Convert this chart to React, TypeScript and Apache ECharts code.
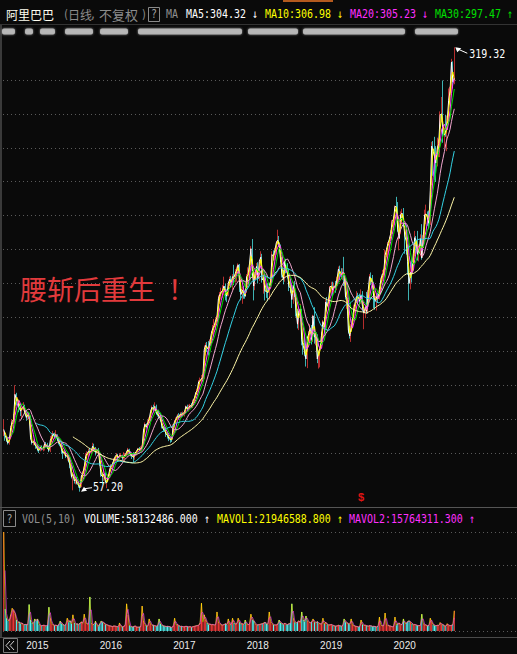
import React, { useEffect, useRef } from "react";
import * as echarts from "echarts";

// Weekly bars, one row per week: [open, close, low, high]
const k2014 = [
  [92.7, 93.89, 89.95, 99.7], [92.7, 90.5, 87.2, 92.9], [89.0, 88.1, 86.6, 90.0], [88.0, 85.8, 85.0, 89.5],
  [85.8, 88.0, 84.9, 89.0], [88.5, 95.0, 88.0, 96.0], [95.5, 98.6, 94.5, 100.0], [99.5, 99.9, 97.0, 103.0],
  [100.0, 114.6, 99.5, 120.0], [114.0, 111.0, 108.0, 115.5], [111.5, 111.6, 108.0, 113.0], [109.0, 106.5, 104.0, 110.0],
  [105.5, 104.7, 101.8, 109.0], [103.0, 106.5, 100.2, 107.5], [107.0, 107.5, 105.0, 110.0], [107.5, 103.6, 103.0, 108.5],
];
const k2015 = [
  [103.0, 101.0, 99.0, 104.0], [101.0, 102.5, 99.5, 104.5], [103.0, 101.9, 100.0, 104.0], [101.5, 89.0, 88.0, 102.0],
  [88.5, 86.0, 85.0, 90.0], [85.0, 87.0, 84.5, 88.0], [87.0, 85.0, 84.5, 88.0], [85.0, 84.0, 82.5, 86.0],
  [84.0, 82.0, 81.0, 85.0], [82.0, 81.5, 80.0, 83.5], [81.5, 83.5, 81.0, 84.5], [83.5, 82.5, 81.5, 84.5],
  [82.5, 82.5, 81.0, 83.5], [82.0, 85.5, 81.5, 86.0], [85.5, 84.5, 83.5, 86.5], [84.5, 83.0, 82.5, 86.0],
  [83.0, 81.5, 80.5, 84.5], [81.5, 87.5, 80.5, 90.0], [87.5, 89.0, 86.5, 91.0], [89.0, 91.5, 88.0, 93.0],
  [91.0, 89.5, 88.5, 92.0], [89.5, 91.0, 88.5, 93.5], [90.0, 88.5, 87.0, 91.0], [88.0, 86.0, 85.0, 88.5],
  [86.5, 85.0, 84.0, 87.0], [84.5, 82.0, 79.5, 85.5], [81.0, 80.0, 76.5, 82.0], [80.5, 80.5, 78.5, 82.0],
  [80.5, 78.0, 77.0, 81.0], [77.5, 78.5, 75.5, 79.5], [78.5, 76.0, 74.5, 79.0], [75.5, 72.5, 71.0, 77.0],
  [72.0, 66.0, 65.0, 73.0], [62.0, 67.5, 58.0, 68.5], [66.5, 63.5, 62.0, 67.5], [63.5, 64.5, 61.5, 66.0],
  [64.5, 62.0, 61.5, 66.0], [61.0, 61.0, 59.5, 63.0], [60.0, 59.5, 57.2, 61.5], [60.0, 66.5, 59.8, 67.0],
  [66.0, 68.0, 65.5, 69.5], [68.5, 71.5, 67.5, 72.0], [72.0, 78.0, 71.5, 80.0], [78.5, 79.5, 77.0, 81.0],
  [80.0, 81.0, 78.0, 82.5], [81.0, 80.5, 79.0, 83.0], [80.5, 81.5, 79.5, 82.5], [81.5, 84.0, 80.5, 86.0],
  [84.0, 82.5, 81.5, 85.5], [82.5, 80.5, 78.5, 83.5], [80.5, 81.5, 79.5, 82.5], [82.0, 81.3, 80.0, 83.0],
];
const k2016 = [
  [79.0, 74.0, 72.5, 80.0], [74.0, 67.0, 66.0, 75.5], [66.5, 66.0, 61.5, 68.5], [66.0, 67.5, 63.5, 70.0],
  [67.0, 63.0, 62.0, 68.5], [62.0, 62.5, 59.25, 64.0], [64.0, 66.0, 63.5, 67.5], [66.0, 70.0, 65.5, 71.0],
  [70.0, 72.5, 69.0, 73.5], [72.0, 73.5, 71.0, 74.5], [73.5, 76.0, 72.5, 77.0], [76.0, 78.0, 75.5, 78.5],
  [78.0, 79.0, 77.0, 80.0], [79.0, 77.0, 76.0, 79.5], [77.0, 78.5, 76.5, 79.5], [78.5, 78.5, 77.5, 80.0],
  [78.0, 77.0, 75.5, 79.0], [77.0, 77.5, 75.0, 80.5], [77.5, 79.0, 76.5, 80.0], [79.0, 80.5, 78.0, 81.5],
  [80.5, 82.0, 79.5, 83.0], [82.0, 80.0, 79.5, 82.5], [80.0, 79.0, 78.0, 81.0], [79.0, 78.0, 76.5, 79.5],
  [78.5, 77.5, 74.5, 80.5], [77.0, 80.0, 76.0, 80.5], [80.0, 81.0, 78.5, 81.5], [81.0, 82.5, 80.5, 83.0],
  [82.5, 82.0, 81.0, 83.5], [82.0, 82.5, 81.0, 84.0], [82.5, 83.5, 81.5, 84.5], [84.0, 93.5, 83.5, 94.0],
  [93.5, 97.0, 92.5, 98.0], [97.0, 95.5, 94.5, 97.5], [95.5, 98.0, 95.0, 99.5], [98.5, 100.0, 97.5, 101.0],
  [100.0, 104.5, 98.5, 105.5], [104.5, 107.0, 104.0, 108.0], [107.0, 105.8, 104.0, 108.5], [106.0, 107.5, 104.5, 109.9],
  [107.5, 103.5, 102.5, 108.5], [103.5, 103.0, 101.5, 105.0], [103.0, 101.5, 100.0, 105.5], [101.5, 100.0, 98.5, 103.5],
  [100.0, 96.0, 94.5, 101.5], [95.5, 94.0, 92.5, 96.0], [94.0, 93.5, 92.5, 95.5], [93.5, 91.0, 89.5, 94.0],
  [91.0, 90.5, 88.5, 92.5], [90.5, 88.5, 87.0, 91.0], [88.5, 88.0, 86.0, 89.5], [88.0, 87.8, 86.5, 89.5],
];
const k2017 = [
  [89.0, 96.0, 88.5, 97.0], [96.0, 98.5, 95.5, 99.5], [98.5, 100.0, 97.5, 101.0], [100.5, 102.0, 99.5, 103.0],
  [101.5, 101.0, 100.0, 103.5], [101.0, 103.0, 100.5, 104.0], [103.0, 102.5, 101.0, 104.0], [102.5, 103.5, 101.5, 104.5],
  [103.0, 104.0, 101.5, 105.0], [104.0, 107.5, 103.0, 108.0], [107.5, 106.0, 105.0, 108.5], [106.0, 106.5, 104.5, 108.5],
  [106.5, 108.0, 106.0, 109.0], [108.0, 107.5, 106.5, 109.5], [107.5, 110.5, 106.5, 111.5], [110.5, 112.5, 109.5, 113.0],
  [113.0, 115.5, 112.5, 116.0], [115.5, 117.0, 114.5, 118.0], [117.0, 122.0, 116.5, 123.0], [122.0, 122.5, 119.0, 124.5],
  [123.0, 124.0, 121.0, 126.0], [124.0, 124.5, 122.0, 126.5], [124.5, 141.0, 123.5, 143.5], [141.0, 143.5, 137.5, 145.0],
  [143.0, 142.0, 139.5, 145.5], [142.0, 141.0, 137.5, 146.0], [142.0, 145.5, 140.0, 147.0], [145.0, 150.5, 144.0, 152.0],
  [151.0, 153.5, 150.0, 155.5], [153.5, 155.0, 150.0, 159.0], [155.0, 158.0, 152.5, 160.0], [158.0, 160.0, 155.5, 161.0],
  [160.0, 171.0, 158.5, 173.0], [171.0, 173.5, 168.0, 175.0], [173.5, 175.0, 170.5, 177.5], [175.0, 176.0, 171.5, 179.0],
  [176.0, 178.5, 173.0, 184.0], [178.5, 174.0, 170.0, 180.0], [174.0, 172.5, 169.0, 176.5], [173.0, 180.0, 172.5, 181.0],
  [180.0, 182.5, 178.5, 184.0], [182.5, 180.5, 177.5, 184.5], [180.5, 184.0, 176.0, 185.5], [184.0, 183.5, 179.0, 191.0],
  [183.5, 186.0, 180.5, 188.5], [186.0, 188.0, 181.0, 190.0], [188.5, 191.0, 186.0, 191.8], [191.0, 180.5, 175.0, 191.5],
  [180.0, 173.5, 170.0, 182.0], [173.5, 176.0, 168.0, 178.0], [176.0, 174.0, 171.0, 178.5], [174.0, 172.4, 171.0, 176.0],
];
const k2018 = [
  [175.0, 184.0, 174.5, 185.5], [184.0, 185.0, 182.0, 189.5], [185.0, 191.5, 184.0, 192.0], [191.5, 200.5, 190.5, 202.0],
  [200.5, 187.0, 184.0, 206.2], [186.0, 178.5, 170.0, 188.0], [178.5, 186.0, 176.0, 187.0], [186.0, 190.0, 184.0, 192.0],
  [190.0, 183.0, 180.0, 192.5], [183.0, 193.0, 181.5, 194.0], [193.0, 195.5, 192.0, 199.0], [195.5, 182.0, 180.5, 197.5],
  [182.0, 183.5, 174.0, 185.0], [182.0, 175.5, 170.0, 184.0], [176.0, 175.5, 171.5, 178.5], [175.5, 174.5, 169.5, 180.0],
  [174.5, 178.5, 170.5, 180.0], [178.5, 181.5, 177.0, 183.0], [181.5, 197.0, 180.5, 199.0], [197.0, 196.0, 193.5, 199.5],
  [196.0, 199.5, 193.5, 201.0], [199.5, 204.0, 197.0, 205.0], [204.0, 205.5, 203.0, 211.7], [205.5, 203.0, 201.5, 208.0],
  [202.0, 194.0, 192.5, 203.0], [194.0, 185.5, 183.5, 195.5], [186.0, 182.5, 179.5, 188.0], [182.5, 193.0, 181.0, 194.0],
  [193.0, 187.5, 186.0, 194.5], [187.5, 185.5, 183.0, 192.0], [185.5, 178.0, 175.5, 188.5], [178.0, 177.5, 174.5, 182.5],
  [177.0, 170.5, 165.5, 179.0], [170.5, 179.0, 168.0, 181.0], [179.0, 175.0, 172.0, 181.5], [175.0, 164.0, 160.5, 175.5],
  [164.0, 156.0, 153.5, 165.0], [156.0, 164.0, 152.5, 166.0], [164.0, 164.8, 160.5, 168.0], [164.0, 147.0, 143.5, 165.0],
  [146.5, 143.5, 138.0, 149.5], [143.5, 140.0, 137.0, 149.0], [140.0, 135.5, 131.0, 143.5], [134.5, 147.5, 130.06, 149.0],
  [147.0, 150.5, 142.5, 152.0], [150.5, 153.5, 145.5, 156.0], [153.5, 146.5, 144.0, 155.5], [146.5, 160.9, 145.5, 161.5],
  [162.0, 148.5, 144.5, 166.0], [148.5, 148.5, 143.5, 151.5], [148.5, 135.5, 133.0, 150.0], [133.0, 139.5, 129.8, 140.5],
];
const k2019 = [
  [136.0, 142.0, 130.5, 143.0], [143.0, 149.5, 142.0, 151.5], [149.5, 157.5, 145.5, 158.5], [157.5, 154.5, 150.5, 160.0],
  [155.0, 169.0, 152.5, 170.5], [169.0, 166.5, 163.5, 172.0], [166.5, 170.5, 164.5, 171.5], [170.5, 178.0, 169.0, 178.5],
  [178.0, 178.5, 174.5, 181.0], [179.0, 176.0, 172.5, 181.0], [176.0, 178.5, 174.0, 180.5], [178.5, 178.0, 174.5, 181.5],
  [177.5, 182.5, 176.0, 184.0], [183.0, 188.5, 182.5, 190.0], [188.5, 186.0, 182.0, 190.5], [186.0, 185.0, 182.5, 189.0],
  [185.0, 186.5, 182.0, 189.0], [186.5, 186.0, 178.5, 195.7], [180.0, 172.0, 170.5, 183.0], [170.0, 171.5, 165.0, 175.0],
  [166.5, 152.5, 150.5, 168.0], [153.0, 149.0, 147.5, 155.0], [149.0, 154.0, 145.5, 156.0], [155.0, 160.0, 153.5, 161.0],
  [160.0, 165.5, 158.0, 167.5], [166.0, 169.5, 163.0, 170.5], [172.0, 172.5, 169.5, 175.5], [172.5, 172.0, 168.0, 174.5],
  [172.0, 169.5, 167.5, 174.0], [169.5, 173.0, 168.0, 176.5], [173.0, 166.5, 163.5, 175.5], [162.0, 162.5, 153.0, 164.5],
  [162.5, 166.0, 159.5, 167.5], [166.5, 163.5, 162.0, 175.0], [163.0, 175.0, 162.0, 176.0], [174.0, 184.0, 172.5, 185.5],
  [184.0, 182.5, 179.0, 186.5], [182.5, 180.0, 178.0, 185.0], [180.0, 172.0, 165.5, 181.0], [172.0, 169.5, 164.5, 173.5],
  [168.5, 172.0, 164.0, 174.0], [172.0, 171.0, 168.5, 174.5], [171.0, 176.5, 170.5, 178.0], [176.5, 182.0, 174.5, 183.5],
  [182.5, 185.5, 181.5, 188.0], [185.5, 186.0, 183.5, 188.5], [186.5, 196.5, 185.5, 200.0], [197.0, 200.0, 195.5, 201.0],
  [200.0, 203.5, 196.0, 204.5], [203.5, 206.0, 199.0, 207.5], [206.0, 209.5, 205.0, 211.5], [209.5, 216.5, 209.0, 217.5],
];
const k2020 = [
  [216.5, 218.0, 213.0, 219.5], [217.0, 225.5, 214.5, 226.0], [225.5, 225.0, 222.5, 231.1], [225.0, 212.0, 210.5, 228.0],
  [205.0, 206.5, 199.5, 212.0], [210.0, 220.5, 209.0, 222.5], [220.5, 221.5, 216.0, 224.0], [221.0, 216.5, 213.5, 224.5],
  [208.0, 208.0, 197.5, 212.0], [210.0, 205.0, 197.0, 214.5], [196.0, 193.0, 185.0, 203.0], [182.0, 180.0, 169.95, 190.0],
  [180.0, 186.5, 176.5, 193.0], [192.0, 186.0, 180.5, 194.5], [190.0, 197.5, 188.0, 200.0], [198.0, 207.0, 196.0, 211.0],
  [205.0, 204.0, 197.5, 208.0], [205.0, 197.0, 193.5, 211.0], [195.0, 199.0, 193.0, 203.0], [200.0, 206.5, 196.0, 209.0],
  [206.5, 195.0, 194.0, 215.0], [197.0, 207.0, 195.5, 208.5], [207.0, 220.5, 206.0, 223.5], [221.0, 221.0, 215.0, 226.5],
  [221.0, 219.0, 214.0, 222.5], [218.0, 215.5, 212.0, 223.0], [216.0, 235.0, 214.5, 236.5], [241.0, 261.0, 238.0, 263.5],
  [260.0, 258.0, 243.5, 264.0], [256.0, 255.0, 241.0, 266.5], [252.0, 251.0, 240.0, 261.0], [252.0, 260.0, 249.0, 266.0],
  [262.0, 262.5, 254.5, 265.0], [262.0, 279.5, 254.5, 281.5], [280.0, 280.0, 275.0, 290.0], [287.0, 268.5, 263.0, 299.7],
  [264.0, 267.5, 260.0, 272.0], [271.0, 270.0, 266.5, 279.5], [267.0, 276.0, 258.0, 279.0], [279.0, 288.0, 274.0, 295.0],
  [290.0, 293.5, 285.5, 296.0], [294.0, 310.5, 291.5, 312.5], [308.0, 299.0, 295.0, 311.0], [300.0, 301.0, 297.5, 319.32],
];

// Volume per week (millions of shares per day)
const vol2014 = [270, 60, 35, 28, 30, 45, 62, 55, 48, 30, 22, 25, 20, 22, 16, 18];
const vol2015 = [
  18, 16, 72, 30, 22, 20, 33, 28, 33, 18, 15, 14, 16, 15, 13, 17, 65, 35, 20, 17, 15, 16, 14, 18, 27, 20,
  17, 15, 18, 35, 24, 28, 20, 44, 22, 18, 20, 17, 22, 25, 20, 46, 24, 18, 20, 93, 22, 17, 18, 27, 15, 13,
];
const vol2016 = [
  20, 27, 24, 22, 18, 17, 15, 14, 13, 12, 14, 13, 12, 11, 22, 12, 11, 13, 16, 74, 44, 15, 12, 11, 12, 14,
  11, 10, 11, 12, 68, 28, 17, 14, 13, 33, 20, 15, 16, 14, 13, 15, 33, 19, 16, 14, 13, 12, 13, 12, 11, 9,
];
const vol2017 = [
  14, 35, 16, 18, 14, 12, 13, 11, 12, 13, 12, 11, 12, 10, 12, 13, 14, 15, 16, 22, 76, 25, 44, 30, 22, 18,
  19, 17, 18, 16, 18, 52, 25, 20, 17, 16, 18, 20, 17, 33, 18, 17, 35, 22, 19, 20, 35, 24, 19, 20, 17, 30,
];
const vol2018 = [
  18, 17, 20, 46, 30, 28, 20, 16, 17, 18, 19, 20, 22, 24, 19, 18, 52, 26, 20, 17, 16, 17, 19, 30, 22, 20,
  18, 22, 17, 18, 20, 22, 74, 35, 24, 21, 25, 28, 22, 52, 30, 26, 41, 28, 24, 22, 25, 33, 24, 22, 26, 20,
];
const vol2019 = [
  20, 18, 35, 19, 24, 18, 16, 17, 18, 15, 14, 13, 14, 16, 14, 13, 15, 33, 24, 22, 20, 18, 33, 17, 14, 13,
  12, 11, 12, 30, 18, 15, 16, 14, 13, 15, 14, 12, 13, 12, 11, 13, 38, 16, 14, 15, 49, 18, 15, 14, 13, 11,
];
const vol2020 = [
  13, 38, 16, 20, 22, 16, 18, 33, 20, 22, 26, 28, 24, 20, 17, 18, 16, 15, 14, 16, 46, 20,
  17, 16, 14, 15, 35, 24, 18, 15, 14, 16, 15, 23, 18, 17, 14, 13, 20, 15, 14, 16, 17, 55,
];

const years = [2014, 2015, 2016, 2017, 2018, 2019, 2020];
const firstWeekNo = [38, 1, 1, 1, 1, 1, 1];
const barsByYear = [k2014, k2015, k2016, k2017, k2018, k2019, k2020];
const volByYear = [vol2014, vol2015, vol2016, vol2017, vol2018, vol2019, vol2020];

// Moving-average windows in weeks (about 5/10/20/30/60/120/250 trading days)
const maWeeks = [1, 2, 4, 6, 12, 24, 50];
const maColors = ["#ffffff", "#ffff00", "#ff40ff", "#00e000", "#f2a6cf", "#34d2e4", "#fff7a8"];
const mavolWeeks = [1, 2];
const mavolColors = ["#ffff00", "#ff40ff"];

// Header readouts
const maHeader = [
  { label: "MA5:304.32", arrow: "↓", color: "#ffffff", x: 186 },
  { label: "MA10:306.98", arrow: "↓", color: "#ffff00", x: 265 },
  { label: "MA20:305.23", arrow: "↓", color: "#ff30ff", x: 350 },
  { label: "MA30:297.47", arrow: "↑", color: "#00e000", x: 435 },
];
const volHeader = [
  { label: "VOLUME:58132486.000", arrow: "↑", color: "#ffffff", x: 84 },
  { label: "MAVOL1:21946588.800", arrow: "↑", color: "#ffff00", x: 217 },
  { label: "MAVOL2:15764311.300", arrow: "↑", color: "#ff30ff", x: 349 },
];

const UP = "#ff3c3c";
const DOWN = "#54fcfc";
const BG = "#0a0a0a";
const GRID_DOT = "#5a5a5a";
const MONO = "'DejaVu Sans Mono', 'Liberation Mono', monospace";
const CJK = "'Noto Sans CJK SC', sans-serif";

function movingAverage(values: number[], n: number) {
  const out: (number | string)[] = [];
  let sum = 0;
  for (let i = 0; i < values.length; i++) {
    sum += values[i];
    if (i >= n) sum -= values[i - n];
    out.push(i >= n - 1 ? +(sum / n).toFixed(3) : "-");
  }
  return out;
}

function monoText(x: number, y: number, text: string, fill: string) {
  return {
    type: "text",
    x,
    y,
    scaleX: 0.83,
    silent: true,
    style: { text, fill, font: `12px ${MONO}`, verticalAlign: "middle" },
  };
}

function cjkText(x: number, y: number, text: string, fill: string, size: number) {
  return {
    type: "text",
    x,
    y,
    silent: true,
    style: { text, fill, font: `${size}px ${CJK}`, verticalAlign: "middle" },
  };
}

export default function App() {
  const ref = useRef<HTMLDivElement>(null);

  useEffect(() => {
    if (!ref.current) return;
    const chart = echarts.init(ref.current, undefined, { renderer: "svg" });

    const categories: string[] = [];
    const bars: number[][] = [];
    const vols: number[] = [];
    const yearStart = new Set<number>();
    years.forEach((yr, yi) => {
      barsByYear[yi].forEach((b, i) => {
        if (i === 0 && yi > 0) yearStart.add(categories.length);
        categories.push(`${yr}-W${firstWeekNo[yi] + i}`);
        bars.push(b);
        vols.push(volByYear[yi][i]);
      });
    });
    const closes = bars.map((b) => b[1]);

    const gridL = 3;
    const dataW = 452;

    const maSeries = maWeeks.map((n, i) => ({
      type: "line",
      xAxisIndex: 0,
      yAxisIndex: 0,
      data: movingAverage(closes, n),
      symbol: "none",
      clip: false,
      silent: true,
      lineStyle: { width: 1, color: maColors[i] },
      z: 3,
    }));
    const mavolSeries = mavolWeeks.map((n, i) => ({
      type: "line",
      xAxisIndex: 1,
      yAxisIndex: 1,
      data: movingAverage(vols, n),
      symbol: "none",
      silent: true,
      lineStyle: { width: 1, color: mavolColors[i], opacity: 0.6 },
      z: 3,
    }));

    const hiddenAxis = {
      axisLine: { show: false },
      axisTick: { show: false },
      axisLabel: { show: false },
    };

    chart.setOption({
      animation: false,
      backgroundColor: BG,
      grid: [
        { left: gridL, width: dataW, top: 80, height: 373 },
        { left: gridL, width: dataW, top: 532, height: 99 },
        { left: gridL, right: 0, top: 80, height: 373 },
        { left: gridL, right: 0, top: 532, height: 99 },
      ],
      xAxis: [
        { type: "category", gridIndex: 0, data: categories, show: false },
        {
          type: "category",
          gridIndex: 1,
          data: categories,
          axisLine: { show: false },
          axisTick: { show: false },
          axisLabel: {
            show: true,
            interval: (idx: number) => yearStart.has(idx),
            formatter: (v: string) => v.slice(0, 4),
            color: "#ececec",
            fontSize: 10,
            fontFamily: "'Liberation Sans', Arial, sans-serif",
            align: "left",
            margin: 9,
          },
        },
        { type: "value", gridIndex: 2, min: 0, max: 1, show: false },
        { type: "value", gridIndex: 3, min: 0, max: 1, show: false },
      ],
      yAxis: [
        { type: "value", gridIndex: 0, min: 80, max: 300, show: false, splitLine: { show: false } },
        { type: "value", gridIndex: 1, min: 0, max: 270, show: false, splitLine: { show: false } },
        {
          type: "value",
          gridIndex: 2,
          min: 80,
          max: 300,
          interval: 20,
          ...hiddenAxis,
          splitLine: { show: true, lineStyle: { color: GRID_DOT, type: [1, 3], width: 1 } },
        },
        {
          type: "value",
          gridIndex: 3,
          min: 0,
          max: 270,
          interval: 90,
          ...hiddenAxis,
          splitLine: { show: true, lineStyle: { color: GRID_DOT, type: [1, 3], width: 1 } },
        },
      ],
      series: [
        {
          type: "candlestick",
          xAxisIndex: 0,
          yAxisIndex: 0,
          data: bars,
          clip: false,
          silent: true,
          barWidth: 1,
          itemStyle: {
            color: UP,
            color0: DOWN,
            borderColor: UP,
            borderColor0: DOWN,
            borderWidth: 0.7,
          },
          z: 2,
        },
        ...maSeries,
        {
          type: "bar",
          xAxisIndex: 1,
          yAxisIndex: 1,
          silent: true,
          barWidth: 1,
          data: vols.map((v, i) => ({
            value: v,
            itemStyle: { color: bars[i][1] >= bars[i][0] ? UP : DOWN },
          })),
          z: 2,
        },
        ...mavolSeries,
      ],
    });

    // Highest and lowest prices, labelled at their bars
    let iMax = 0;
    let iMin = 0;
    bars.forEach((b, i) => {
      if (b[3] > bars[iMax][3]) iMax = i;
      if (b[2] < bars[iMin][2]) iMin = i;
    });
    const [hx, hy] = chart.convertToPixel({ gridIndex: 0 }, [iMax, bars[iMax][3]]) as number[];
    const [lx, ly] = chart.convertToPixel({ gridIndex: 0 }, [iMin, bars[iMin][2]]) as number[];

    const blobs = [
      [2, 15], [25, 33], [40, 55], [65, 93], [100, 128], [138, 242], [248, 298], [303, 405], [415, 458],
    ];

    const elements: any[] = [
      // frame lines
      { type: "rect", silent: true, shape: { x: 283, y: 0, width: 50, height: 2 }, style: { fill: "#b45a1e" } },
      { type: "line", silent: true, shape: { x1: 0, y1: 24.5, x2: 517, y2: 24.5 }, style: { stroke: "#333333", lineWidth: 1 } },
      { type: "line", silent: true, shape: { x1: 1, y1: 25, x2: 1, y2: 637 }, style: { stroke: "#3a3a3a", lineWidth: 2 } },
      { type: "line", silent: true, shape: { x1: 0, y1: 507.5, x2: 517, y2: 507.5 }, style: { stroke: "#555555", lineWidth: 1 } },
      { type: "line", silent: true, shape: { x1: 0, y1: 637.5, x2: 517, y2: 637.5 }, style: { stroke: "#4a4a4a", lineWidth: 1 } },

      // title row
      cjkText(6, 14, "阿里巴巴", "#fffff0", 12),
      monoText(63, 14, "(", "#8c8c8c"),
      cjkText(68, 14, "日线", "#8c8c8c", 12),
      monoText(90, 14, ",", "#8c8c8c"),
      cjkText(99, 14, "不复权", "#8c8c8c", 13),
      monoText(141, 14, ")", "#8c8c8c"),
      { type: "rect", silent: true, shape: { x: 148.5, y: 7.5, width: 11, height: 14 }, style: { fill: "none", stroke: "#8a8a8a", lineWidth: 1 } },
      monoText(151, 14.5, "?", "#a0a0a0"),
      monoText(166, 14, "MA", "#909090"),
      ...maHeader.flatMap((h) => [
        monoText(h.x, 14, h.label, h.color),
        monoText(h.x + h.label.length * 6 + 6, 14, h.arrow, h.color),
      ]),

      // volume header row
      { type: "rect", silent: true, shape: { x: 3.5, y: 510.5, width: 12, height: 16 }, style: { fill: "none", stroke: "#8a8a8a", lineWidth: 1 } },
      monoText(6.5, 519, "?", "#a0a0a0"),
      monoText(22, 519, "VOL(5,10)", "#909090"),
      ...volHeader.flatMap((h) => [
        monoText(h.x, 519, h.label, h.color),
        monoText(h.x + h.label.length * 6 + 6, 519, h.arrow, h.color),
      ]),

      // annotation
      cjkText(20, 288, "腰斩后重生", "#e23a3c", 27),
      cjkText(168, 288, "！", "#e23a3c", 27),
      {
        type: "text", x: 361, y: 497, silent: true,
        style: { text: "$", fill: "#e01414", font: `bold 11px 'Liberation Sans', sans-serif`, align: "center", verticalAlign: "middle" },
      },

      // high / low markers
      { type: "polygon", silent: true, shape: { points: [[hx + 1, hy], [hx + 7, hy + 1], [hx + 3, hy + 5]] }, style: { fill: "#ffffff" } },
      { type: "line", silent: true, shape: { x1: hx + 4, y1: hy + 2, x2: hx + 13, y2: hy + 6 }, style: { stroke: "#ffffff", lineWidth: 1 } },
      monoText(hx + 15, hy + 7, bars[iMax][3].toFixed(2), "#ffffff"),
      { type: "polygon", silent: true, shape: { points: [[lx + 1, ly], [lx + 4, ly - 5], [lx + 7, ly - 1]] }, style: { fill: "#ffffff" } },
      { type: "line", silent: true, shape: { x1: lx + 5, y1: ly - 3, x2: lx + 12, y2: ly - 4 }, style: { stroke: "#ffffff", lineWidth: 1 } },
      monoText(lx + 13, ly - 4, bars[iMin][2].toFixed(2), "#ffffff"),

      // scroll button
      { type: "rect", silent: true, shape: { x: 3.5, y: 638.5, width: 14, height: 14 }, style: { fill: "none", stroke: "#7a7a7a", lineWidth: 1 } },
      { type: "polyline", silent: true, shape: { points: [[10, 641], [6, 645.5], [10, 650]] }, style: { stroke: "#d0d0d0", lineWidth: 1, fill: "none" } },
      { type: "polyline", silent: true, shape: { points: [[14, 641], [10, 645.5], [14, 650]] }, style: { stroke: "#d0d0d0", lineWidth: 1, fill: "none" } },
    ];

    // masked quote strip under the title
    blobs.forEach(([a, b]) => {
      elements.push({
        type: "rect",
        silent: true,
        shape: { x: a, y: 28.5, width: b - a, height: 6, r: 2 },
        style: { fill: "#bdbdbd", opacity: 0.9, shadowBlur: 2, shadowColor: "#9a9a9a" },
      });
    });

    chart.setOption({ graphic: { elements } });

    return () => chart.dispose();
  }, []);

  return (
    <div
      ref={ref}
      style={{ position: "fixed", left: 0, top: 0, width: 517, height: 654, background: BG }}
    />
  );
}
